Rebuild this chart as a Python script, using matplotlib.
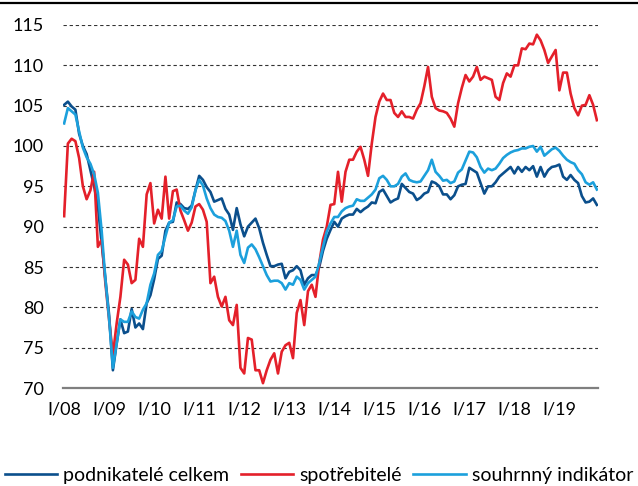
import numpy as np
import matplotlib
matplotlib.use("Agg")
import matplotlib.pyplot as plt
from matplotlib.lines import Line2D

plt.rcParams['font.family'] = ['Lato', 'DejaVu Sans']

# monthly values, I/2008 .. XI/2019
podnikatele = [
    105.1, 105.5, 104.9, 104.5, 101.5, 100.0, 99.0, 97.0, 95.0, 92.5, 88.0, 83.5,
    79.0, 72.2, 75.5, 78.5, 76.8, 77.0, 79.8, 77.5, 78.0, 77.3, 80.5, 81.5,
    83.5, 86.0, 86.4, 89.5, 90.5, 90.6, 93.0, 92.8, 92.3, 92.2, 92.6, 94.5,
    96.3, 95.8, 94.9, 94.3, 93.1, 93.3, 93.5, 92.2, 91.5, 89.6, 92.3, 90.3,
    88.8, 90.0, 90.5, 91.0, 89.8, 88.0, 86.5, 85.1, 85.1, 85.3, 85.4, 83.6,
    84.4, 84.6, 85.1, 84.6, 82.8, 83.6, 84.0, 84.0, 85.0, 87.0, 88.5, 89.6,
    90.6, 90.0, 91.0, 91.3, 91.5, 91.5, 92.2, 91.8, 92.2, 92.5, 93.0, 92.9,
    94.3, 94.6, 93.8, 93.0, 93.3, 93.5, 95.3, 94.8, 94.3, 94.1, 93.3, 93.6,
    94.1, 94.3, 95.6, 95.4, 95.0, 94.0, 94.0, 93.4, 93.9, 95.0, 95.2, 95.3,
    97.3, 97.0, 96.7, 95.4, 94.1, 95.0, 95.0, 95.5, 96.2, 96.6, 97.0, 97.4,
    96.6, 97.4, 96.8, 97.4, 97.0, 97.5, 96.2, 97.4, 96.2, 97.0, 97.4, 97.5,
    97.7, 96.2, 95.8, 96.4, 95.8, 95.4, 93.8, 93.0, 93.1, 93.5, 92.7,
]

spotrebitele = [
    91.3, 100.3, 100.9, 100.6, 98.5, 95.0, 93.4, 94.5, 96.8, 87.5, 88.4, 83.0,
    78.4, 74.1, 78.0, 81.3, 85.9, 85.3, 83.0, 83.4, 88.5, 87.5, 94.0, 95.4,
    90.4, 92.1, 91.0, 96.2, 91.0, 94.4, 94.6, 92.0, 90.8, 89.5, 90.5, 92.5,
    92.8, 92.1, 90.6, 83.0, 83.8, 81.3, 80.1, 81.3, 78.4, 77.8, 80.3, 72.5,
    71.8, 76.2, 76.0, 72.2, 72.2, 70.6, 72.2, 73.5, 74.3, 71.8, 74.5, 75.3,
    75.6, 73.7, 79.3, 80.9, 77.8, 82.0, 82.8, 81.3, 85.5, 88.4, 90.0, 92.7,
    92.8, 96.8, 93.1, 96.8, 98.3, 98.3, 99.3, 99.9, 98.3, 96.3, 100.3, 103.6,
    105.5, 106.5, 105.7, 105.7, 104.1, 103.6, 104.3, 103.6, 103.6, 103.4, 104.5, 105.3,
    107.4, 109.8, 106.1, 104.7, 104.4, 104.3, 104.1, 103.4, 102.4, 105.3, 107.2, 108.8,
    108.0, 108.6, 109.8, 108.2, 108.6, 108.4, 108.2, 106.1, 105.7, 107.8, 109.0, 108.6,
    110.0, 110.0, 112.1, 112.0, 112.7, 112.6, 113.8, 113.1, 111.9, 110.3, 111.1, 111.9,
    106.9, 109.1, 109.1, 106.5, 104.7, 103.8, 105.0, 105.1, 106.3, 105.1, 103.2,
]

souhrnny = [
    102.8, 104.7, 104.3, 103.9, 101.8, 99.8, 98.6, 97.8, 96.5, 94.2, 89.5, 83.5,
    78.5, 72.5, 75.5, 78.5, 78.2, 78.2, 79.5, 78.8, 78.6, 79.7, 80.5, 82.8,
    84.2, 86.5, 87.0, 88.8, 90.5, 90.8, 92.5, 92.6, 92.0, 91.6, 92.4, 94.5,
    95.8, 95.1, 93.5, 92.3, 91.5, 91.2, 91.1, 90.7, 89.5, 87.5, 89.5, 86.5,
    85.5, 87.4, 87.8, 87.2, 86.2, 85.1, 84.0, 83.2, 83.3, 83.3, 83.0, 82.2,
    83.0, 82.8, 83.8, 83.4, 82.2, 83.0, 83.4, 83.8, 85.5, 87.5, 89.4, 90.4,
    91.2, 91.2, 91.9, 92.3, 92.5, 92.6, 93.4, 93.2, 93.2, 93.6, 94.0, 94.6,
    96.0, 96.3, 95.8, 95.0, 95.0, 95.3, 96.2, 96.6, 95.8, 95.6, 95.5, 95.6,
    96.3, 97.0, 98.3, 96.8, 96.3, 95.7, 95.8, 95.4, 95.6, 96.7, 97.1, 98.2,
    99.3, 99.2, 98.6, 97.4, 96.7, 97.2, 97.0, 97.2, 97.8, 98.5, 98.9, 99.2,
    99.4, 99.5, 99.7, 99.7, 99.9, 100.0, 99.3, 99.9, 98.8, 99.2, 99.6, 99.8,
    99.4, 98.8, 98.3, 98.0, 97.8, 97.0, 96.5, 95.5, 95.2, 95.5, 94.6,
]

tick_labels = ['I/08', 'I/09', 'I/10', 'I/11', 'I/12', 'I/13',
               'I/14', 'I/15', 'I/16', 'I/17', 'I/18', 'I/19']

x = np.arange(len(podnikatele))

fig = plt.figure(figsize=(6.38, 4.86), dpi=100)
ax = fig.add_axes([63 / 638, 1 - 388 / 486, 535 / 638, 363 / 486])

ax.plot(x, podnikatele, color='#0b4f8c', lw=1.9, label='podnikatelé celkem')
ax.plot(x, spotrebitele, color='#e4202a', lw=1.9, label='spotřebitelé')
ax.plot(x, souhrnny, color='#1ca0dc', lw=1.9, label='souhrnný indikátor')

ax.set_ylim(70, 115)
ax.set_xlim(-0.3, len(x) - 0.7)
ax.set_yticks(range(70, 116, 5))
ax.set_xticks(np.arange(0, len(tick_labels) * 12, 12))
ax.set_xticklabels(tick_labels)
ax.tick_params(length=0, labelsize=13, colors='black')
ax.tick_params(axis='y', pad=14)
ax.tick_params(axis='x', pad=10)

for v in range(75, 116, 5):
    ax.axhline(v, color='#333333', lw=0.8, ls=(0, (3, 2.5)), zorder=0)

for s in ['top', 'right', 'left']:
    ax.spines[s].set_visible(False)
ax.spines['bottom'].set_color('#7f7f7f')
ax.spines['bottom'].set_linewidth(1.6)

fig.add_artist(Line2D([0, 1], [0.993, 0.993], transform=fig.transFigure,
                      color='black', lw=1.6))

fig.legend(loc='center', bbox_to_anchor=(0.5, 0.022), ncol=3,
           frameon=False, fontsize=14, handlelength=2.7,
           handletextpad=0.3, columnspacing=0.6, borderpad=0.1)

fig.savefig('out.png', dpi=100)
